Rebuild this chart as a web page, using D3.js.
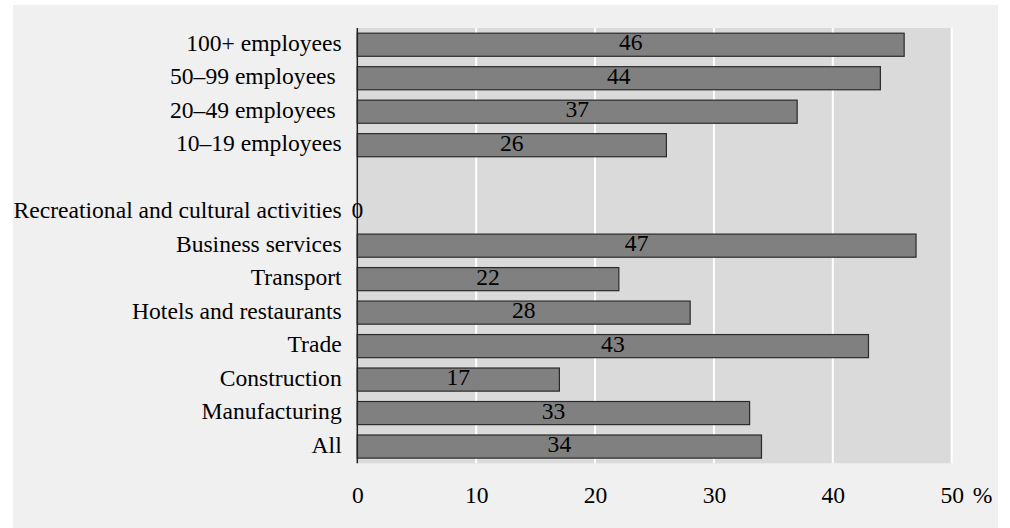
<!DOCTYPE html>
<html>
<head>
<meta charset="utf-8">
<script src="https://cdn.jsdelivr.net/npm/d3@7"></script>
<style>
  html, body { margin: 0; padding: 0; background: #ffffff; }
  svg { display: block; }
  text { font-family: "Liberation Serif", "Times New Roman", serif; fill: #000; }
</style>
</head>
<body>
<svg id="chart" width="1010" height="528"></svg>
<script>
// Share of enterprises (%), listed top to bottom; the empty entry separates the two groups
const categories = [
  "100+ employees",
  "50\u201399 employees ",
  "20\u201349 employees ",
  "10\u201319 employees",
  "",
  "Recreational and cultural activities",
  "Business services",
  "Transport",
  "Hotels and restaurants",
  "Trade",
  "Construction",
  "Manufacturing",
  "All"
];
const values = [46, 44, 37, 26, null, 0, 47, 22, 28, 43, 17, 33, 34];
const xTicks = [0, 10, 20, 30, 40, 50];
const unitLabel = "%";

const panel = { x: 13, y: 5, w: 985, h: 523 };
const plot = { left: 357.3, right: 951.7, top: 28, bottom: 463.3 };
const fontSize = 23.6;

const svg = d3.select("#chart");

svg.append("rect")
  .attr("x", panel.x).attr("y", panel.y)
  .attr("width", panel.w).attr("height", panel.h)
  .attr("fill", "#f0f0f0");

const x = d3.scaleLinear().domain([0, 50]).range([plot.left, plot.right]);
const y = d3.scaleBand()
  .domain(d3.range(categories.length))
  .range([plot.top, plot.bottom])
  .paddingInner(0.31)
  .paddingOuter(0.155);

// plot background
svg.append("rect")
  .attr("x", plot.left).attr("y", plot.top)
  .attr("width", plot.right - plot.left).attr("height", plot.bottom - plot.top)
  .attr("fill", "#dadada");

// vertical gridlines
svg.append("g")
  .selectAll("line")
  .data(xTicks.filter(t => t > 0))
  .join("line")
  .attr("x1", d => x(d)).attr("x2", d => x(d))
  .attr("y1", plot.top).attr("y2", plot.bottom)
  .attr("stroke", "#ffffff")
  .attr("stroke-width", 2);

const rows = categories.map((c, i) => ({ c, v: values[i], i }));

// bars
svg.append("g")
  .selectAll("rect")
  .data(rows.filter(d => d.v !== null && d.v > 0))
  .join("rect")
  .attr("x", x(0))
  .attr("y", d => y(d.i))
  .attr("width", d => x(d.v) - x(0))
  .attr("height", y.bandwidth())
  .attr("fill", "#808080")
  .attr("stroke", "#2a2a2a")
  .attr("stroke-width", 1.2);

// zero axis line
svg.append("line")
  .attr("x1", x(0)).attr("x2", x(0))
  .attr("y1", plot.top).attr("y2", plot.bottom)
  .attr("stroke", "#222")
  .attr("stroke-width", 1.5);

// category labels
svg.append("g")
  .selectAll("text")
  .data(rows.filter(d => d.c !== ""))
  .join("text")
  .attr("xml:space", "preserve")
  .style("white-space", "pre")
  .attr("x", x(0) - 15.6)
  .attr("y", d => y(d.i) + y.bandwidth() / 2 + 6)
  .attr("text-anchor", "end")
  .attr("font-size", fontSize)
  .text(d => d.c);

// value labels, centred on each bar
svg.append("g")
  .selectAll("text")
  .data(rows.filter(d => d.v !== null))
  .join("text")
  .attr("x", d => x(d.v / 2))
  .attr("y", d => y(d.i) + y.bandwidth() / 2 + 5.5)
  .attr("text-anchor", "middle")
  .attr("font-size", fontSize)
  .text(d => d.v);

// x axis tick labels
const axis = svg.append("g")
  .attr("transform", `translate(0,${plot.bottom})`)
  .call(d3.axisBottom(x).tickValues(xTicks).tickSize(0));
axis.select(".domain").remove();
axis.selectAll("text")
  .attr("font-family", "Liberation Serif, Times New Roman, serif")
  .attr("font-size", fontSize)
  .attr("fill", "#000")
  .attr("dy", 0)
  .attr("y", 40);

svg.append("text")
  .attr("x", x(50) + 21)
  .attr("y", plot.bottom + 40)
  .attr("font-size", fontSize)
  .text(unitLabel);
</script>
</body>
</html>
